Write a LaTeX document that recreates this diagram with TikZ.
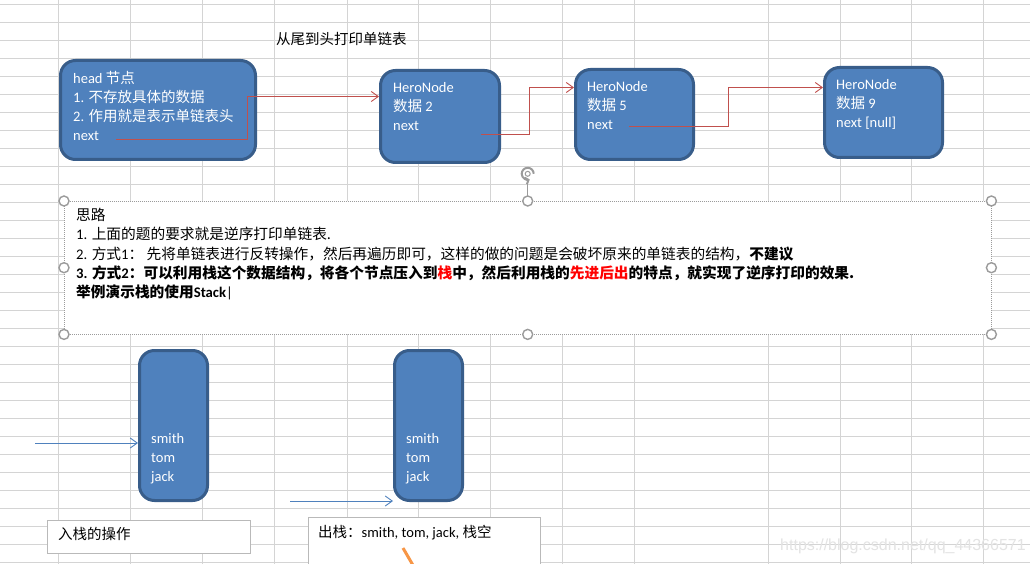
\documentclass[tikz,border=0pt]{standalone}
\usepackage{fontspec}
\setmainfont{Carlito}
\newfontfamily\cjk{Noto Sans CJK SC}
\newfontfamily\markfont{Liberation Sans}
\newcommand\zh[1]{{\cjk #1}}
\usetikzlibrary{arrows.meta,positioning}

\definecolor{boxfill}{RGB}{79,129,189}
\definecolor{boxline}{RGB}{56,93,138}
\definecolor{linkred}{RGB}{192,80,77}
\definecolor{pushblue}{RGB}{79,129,189}
\definecolor{gridgray}{RGB}{212,212,212}
\definecolor{handlegray}{RGB}{155,155,155}
\definecolor{pointer}{RGB}{247,150,70}

\tikzset{
  gridline/.style={draw=gridgray, line width=1pt},
  listnode/.style={draw=boxline, fill=boxfill, line width=3pt, rounded corners=15pt,
                   inner sep=0pt, anchor=north west},
  nodetext/.style={anchor=north west, text=white, align=left, inner sep=0pt},
  link/.style={->, draw=linkred, line width=0.9pt},
  push/.style={->, draw=pushblue, line width=0.9pt},
  handle/.style={circle, draw=handlegray, fill=white, line width=1.4pt,
                 minimum size=10pt, inner sep=0pt},
  notebox/.style={draw=gray!55, fill=white, line width=1pt, inner sep=0pt, anchor=north west}
}

\begin{document}
\begin{tikzpicture}[x=1pt,y=-1pt,>={Straight Barb[length=7pt,width=10pt]},
                    font=\fontsize{14.5}{19}\selectfont]

  \fill[white] (0,0) rectangle (1030,564);
  \useasboundingbox (0,0) rectangle (1030,564);

  % sheet grid
  \foreach \gx in {58,130,202,274,347,418,490,562,634,768,840,911,983}
    \draw[gridline] (\gx,0) -- (\gx,564);
  \foreach \k in {0,...,31}
    \draw[gridline] (0,4.3+18*\k) -- (1030,4.3+18*\k);

  \node[anchor=west, inner sep=0pt] (title) at (276,39) {\zh{从尾到头打印单链表}};

  % the list
  \node[listnode, minimum width=195pt, minimum height=99pt] (head)  at (59,59) {};
  \node[listnode, minimum width=119pt, minimum height=92pt] (hero2) at (379,69) {};
  \node[listnode, minimum width=118pt, minimum height=90pt] (hero5) at (574,68) {};
  \node[listnode, minimum width=118pt, minimum height=90pt] (hero9) at (823,66) {};

  \node[nodetext, below right=12pt and 14pt of head.north west] (headtxt)
    {head \zh{节点}\\1. \zh{不存放具体的数据}\\2. \zh{作用就是表示单链表头}\\next};
  \node[nodetext, below right=13pt and 14pt of hero2.north west] (hero2txt)
    {HeroNode\\\zh{数据} 2\\next};
  \node[nodetext, below right=13pt and 13pt of hero5.north west] (hero5txt)
    {HeroNode\\\zh{数据} 5\\next};
  \node[nodetext, below right=13pt and 13pt of hero9.north west] (hero9txt)
    {HeroNode\\\zh{数据} 9\\next [null]};

  \coordinate (headnext)  at ([xshift=57pt,yshift=22pt]head.south west);
  \coordinate (hero2next) at ([xshift=102pt,yshift=30pt]hero2.south west);
  \coordinate (hero5next) at ([xshift=55pt,yshift=35pt]hero5.south west);

  \draw[link] (headnext)  -- ++(131,0) |- ([yshift=20pt]hero2.west);
  \draw[link] (hero2next) -- ++(48,0)  |- ([yshift=27pt]hero5.west);
  \draw[link] (hero5next) -- ++(99,0)  |- ([yshift=25pt]hero9.west);

  % idea box
  \node[draw=handlegray, dash pattern=on 1pt off 1pt, fill=white, anchor=north west,
        inner sep=0pt, minimum width=927pt, minimum height=133pt] (idea) at (64,201) {};
  \node[handlegray, circle, inner sep=0pt, minimum size=14pt, above=20pt of idea.north] (rot) {};
  \draw[handlegray, line width=1.4pt] (idea.north) -- (rot.south);
  \draw[handlegray, line width=2pt, -{Straight Barb[length=3pt,width=7pt]}]
    ([xshift=6pt]rot.center) arc[start angle=0, end angle=290, radius=6pt];
  \draw[handlegray, line width=1pt] (rot.center) circle[radius=2.5pt];
  \foreach \a in {north west,north,north east,west,east,south west,south,south east}
    \node[handle] (h-\a) at (idea.\a) {};

  \node[anchor=north west, align=left, inner sep=0pt, font=\fontsize{14.7}{19.3}\selectfont,
        below right=7pt and 12pt of idea.north west] (ideatxt)
    {\zh{思路}\\
     1. \zh{上面的题的要求就是逆序打印单链表.}\\
     2. \zh{方式}1\zh{：} \zh{先将单链表进行反转操作，然后再遍历即可，这样的做的问题是会破坏原来的单链表的结构，}\textbf{\zh{不建议}}\\
     \textbf{3. \zh{方式}2\zh{：可以利用栈这个数据结构，将各个节点压入到\textcolor{red}{栈}中，然后利用栈的\textcolor{red}{先进后出}的特点，就实现了逆序打印的效果.}}\\
     \textbf{\zh{举例演示栈的使用}Stack}|};

  % the stacks
  \node[listnode, minimum width=68pt, minimum height=150pt] (stack1) at (138,349) {};
  \node[listnode, minimum width=68pt, minimum height=150pt] (stack2) at (393,349) {};
  \node[nodetext, below right=84pt and 13pt of stack1.north west] (stack1txt) {smith\\tom\\jack};
  \node[nodetext, below right=84pt and 13pt of stack2.north west] (stack2txt) {smith\\tom\\jack};

  \coordinate (pushin) at (35,443);
  \coordinate (popin)  at (290,501);
  \draw[push] (pushin) -- (pushin -| stack1.west);
  \draw[push] (popin) -- (popin -| stack2.west);

  \node[notebox, minimum width=203pt, minimum height=33pt] (pushbox) at (47,520) {};
  \node[anchor=west, inner sep=0pt] (pushlabel) at ([xshift=11pt,yshift=3pt]pushbox.west) {\zh{入栈的操作}};
  \node[notebox, minimum width=232pt, minimum height=60pt] (popbox) at (308,517) {};
  \node[anchor=north west, inner sep=0pt, below right=8pt and 10pt of popbox.north west] (poplabel)
    {\zh{出栈：}smith, tom, jack, \zh{栈空}};

  \coordinate (pointertip) at (403,548);
  \draw[pointer, line width=3pt] (pointertip) -- ++(11,19);

  \node[anchor=west, inner sep=0pt, text=gray!22, font=\markfont\fontsize{16}{16}\selectfont]
    (mark) at (780,546) {https://blog.csdn.net/qq\_44366571};
\end{tikzpicture}
\end{document}
